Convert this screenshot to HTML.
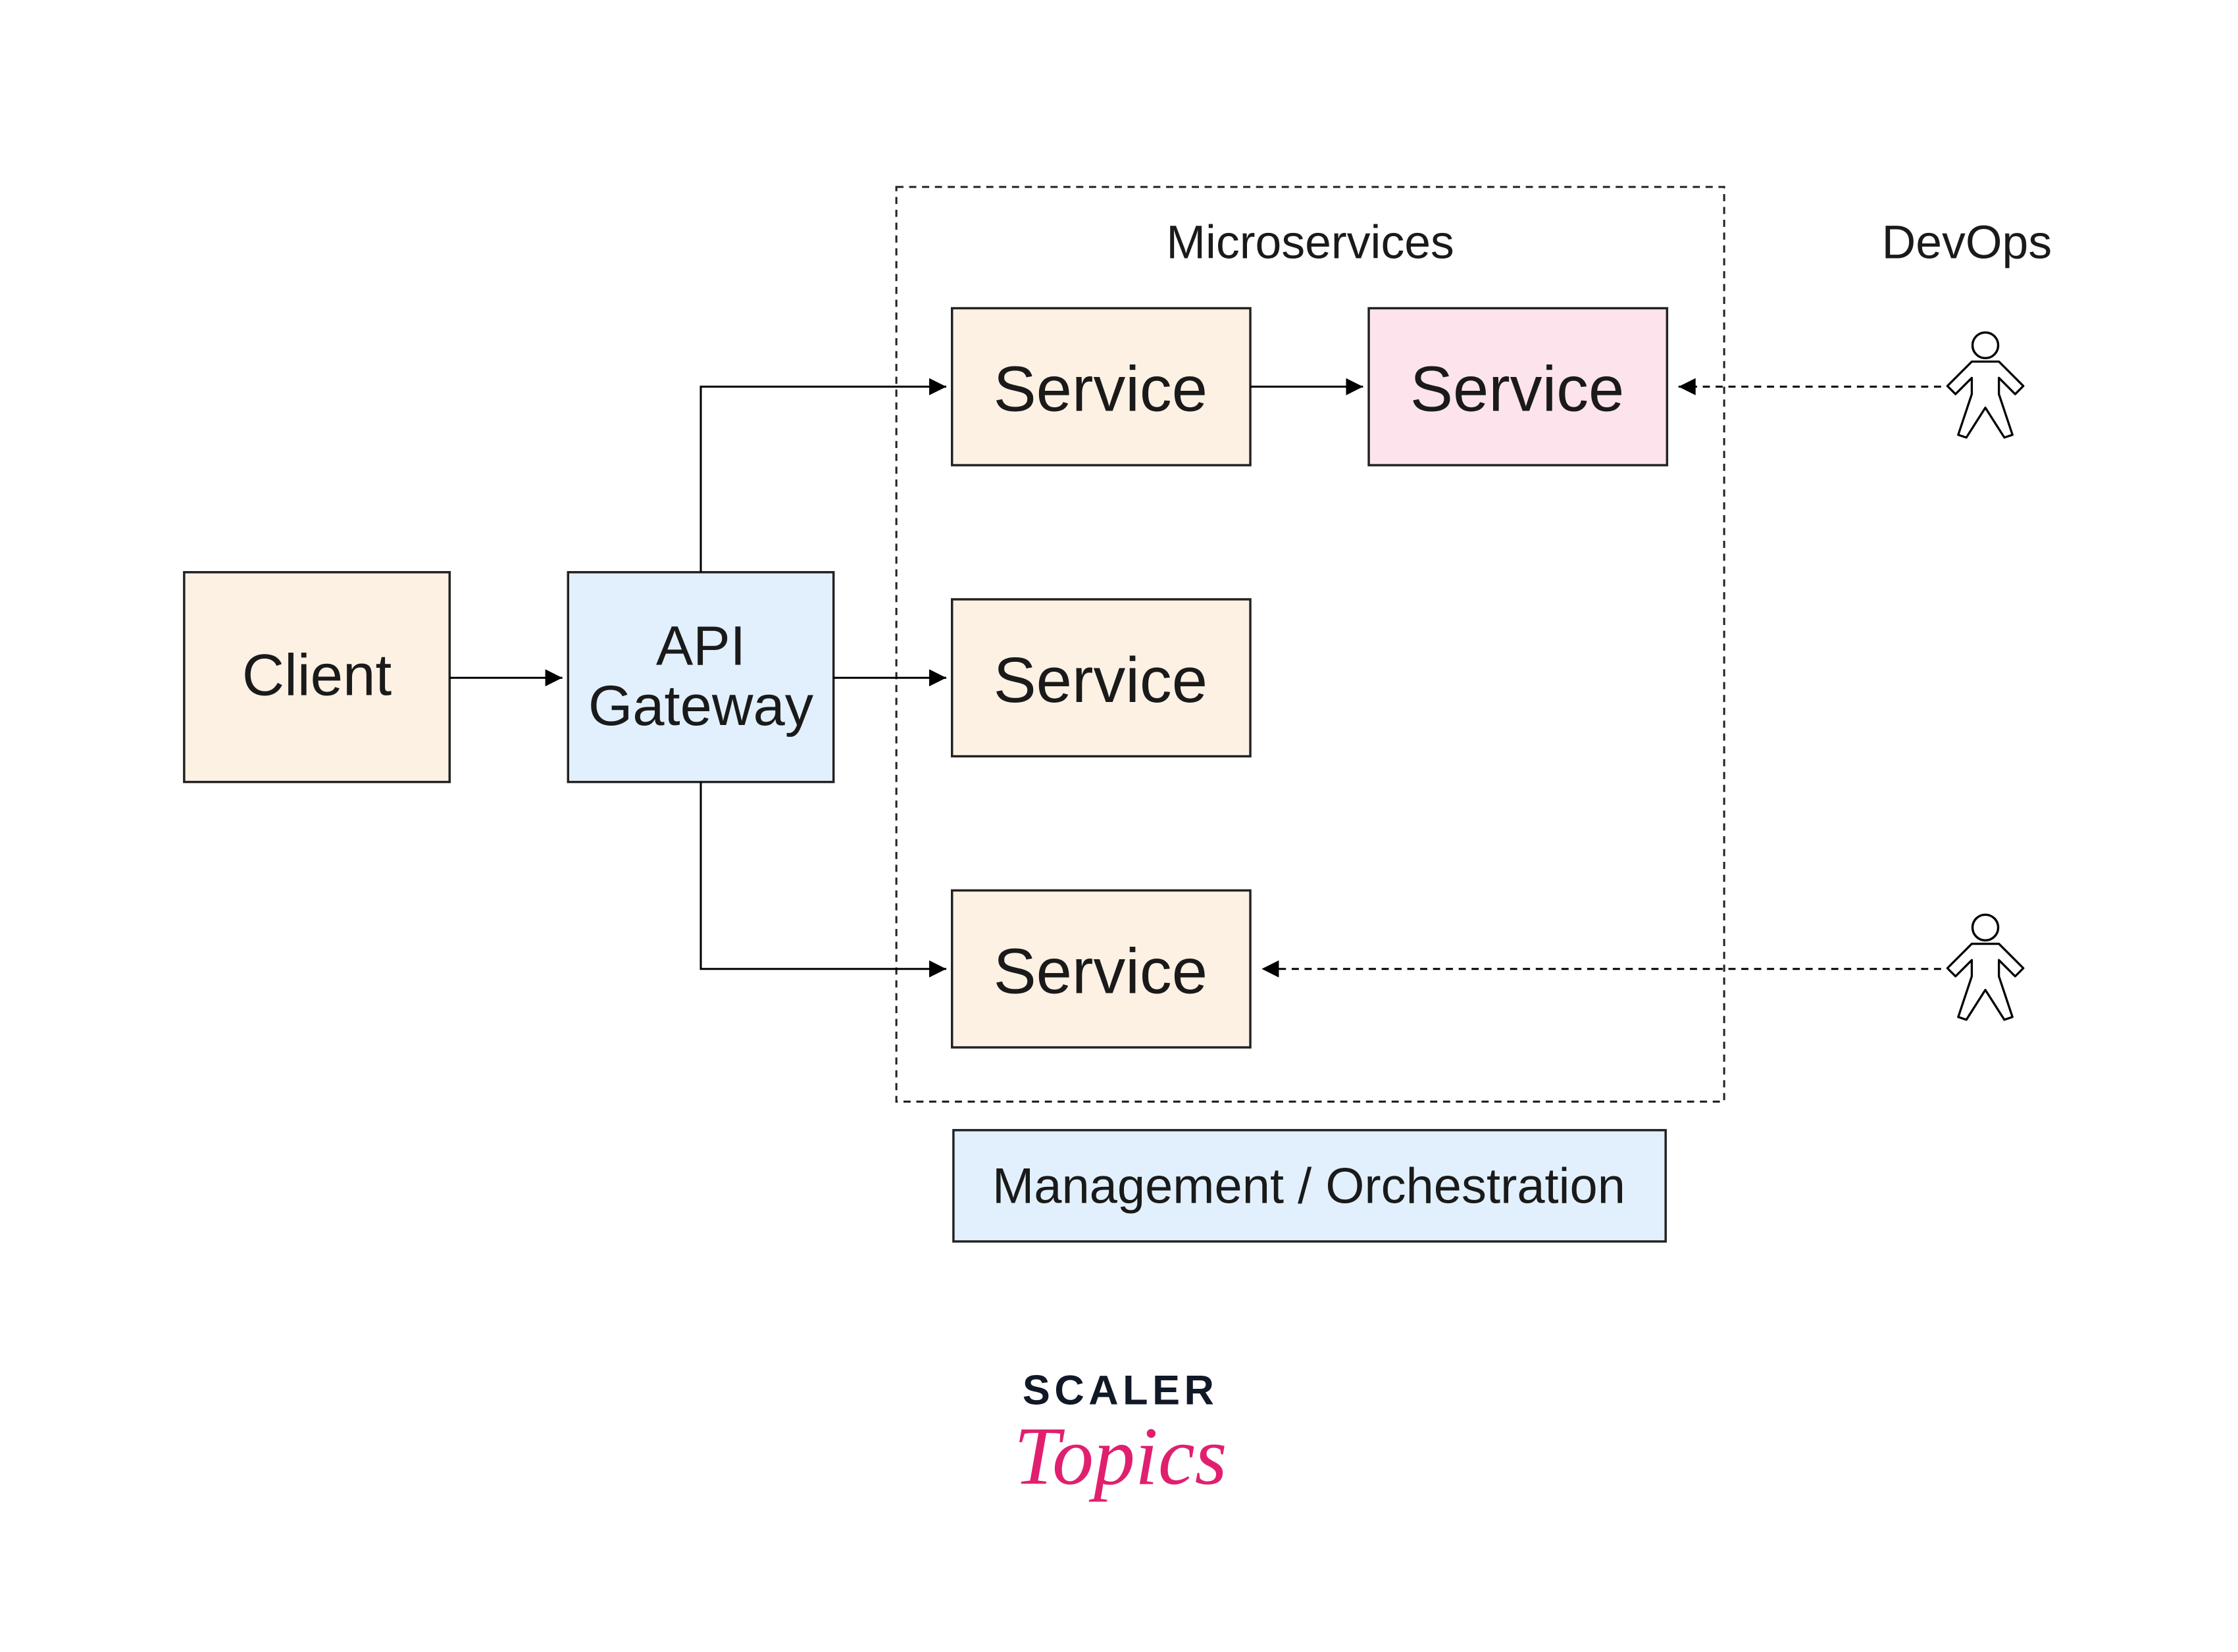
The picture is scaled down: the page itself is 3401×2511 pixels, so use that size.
<!DOCTYPE html>
<html><head><meta charset="utf-8"><style>
html,body{margin:0;padding:0;background:#fff;}
svg{display:block;}
text{font-family:"Liberation Sans",sans-serif;fill:#1a1a1a;}
</style></head><body>
<svg width="3401" height="2511" viewBox="0 0 1568 1157.7" xmlns="http://www.w3.org/2000/svg">
<defs>
<marker id="a" viewBox="0 0 10 10" refX="10" refY="5" markerWidth="12" markerHeight="12" markerUnits="userSpaceOnUse" orient="auto"><path d="M0,0L10,5L0,10z" fill="#000"/></marker>
</defs>
<rect x="0" y="0" width="1568" height="1158" fill="#fff"/>
<rect x="628" y="131" width="580" height="641" fill="none" stroke="#222" stroke-width="1.4" stroke-dasharray="5,4"/>
<text x="918" y="181" font-size="33" text-anchor="middle">Microservices</text>
<text x="1378" y="181" font-size="33" text-anchor="middle">DevOps</text>

<g stroke="#222" stroke-width="1.6">
<rect x="129" y="401" width="186" height="147" fill="#fdf1e4"/>
<rect x="398" y="401" width="186" height="147" fill="#e2f0fd"/>
<rect x="667" y="216" width="209" height="110" fill="#fdf1e4"/>
<rect x="959" y="216" width="209" height="110" fill="#fde3ec"/>
<rect x="667" y="420" width="209" height="110" fill="#fdf1e4"/>
<rect x="667" y="624" width="209" height="110" fill="#fdf1e4"/>
<rect x="668" y="792" width="499" height="78" fill="#e2f0fd"/>
</g>
<text x="222" y="487" font-size="41" text-anchor="middle">Client</text>
<text x="491" y="466" font-size="39" text-anchor="middle">API</text>
<text x="491" y="508" font-size="40" text-anchor="middle">Gateway</text>
<text x="771" y="288" font-size="45" text-anchor="middle">Service</text>
<text x="1063" y="288" font-size="45" text-anchor="middle">Service</text>
<text x="771" y="492" font-size="45" text-anchor="middle">Service</text>
<text x="771" y="696" font-size="45" text-anchor="middle">Service</text>
<text x="917" y="843" font-size="35" text-anchor="middle">Management / Orchestration</text>

<g stroke="#000" stroke-width="1.4" fill="none">
<path d="M315,475H394" marker-end="url(#a)"/>
<path d="M584,475H663" marker-end="url(#a)"/>
<path d="M491,401V271H663" marker-end="url(#a)"/>
<path d="M491,548V679H663" marker-end="url(#a)"/>
<path d="M876,271H955" marker-end="url(#a)"/>
<path d="M1360,271H1176" stroke-dasharray="5,4" marker-end="url(#a)"/>
<path d="M1360,679H884" stroke-dasharray="5,4" marker-end="url(#a)"/>
</g>
<g stroke="#000" stroke-width="1.6" fill="#fff" stroke-linejoin="round">
<g transform="translate(1391,242)">
<circle cx="0" cy="0" r="9"/>
<path d="M-10,12H10L28,30L22,36L10,24V36L20,66L14,68L0,46L-14,68L-20,66L-10,36V24L-22,36L-28,30Z" transform="scale(0.95)"/>
</g>
<g transform="translate(1391,650)">
<circle cx="0" cy="0" r="9"/>
<path d="M-10,12H10L28,30L22,36L10,24V36L20,66L14,68L0,46L-14,68L-20,66L-10,36V24L-22,36L-28,30Z" transform="scale(0.95)"/>
</g>
</g>
<text x="785" y="984" font-size="29" font-weight="bold" text-anchor="middle" letter-spacing="3" style="fill:#111827">SCALER</text>
<text x="785" y="1040" font-size="58" font-style="italic" text-anchor="middle" style="fill:#e0206f;font-family:'Liberation Serif',serif">Topics</text>
</svg>
</body></html>
